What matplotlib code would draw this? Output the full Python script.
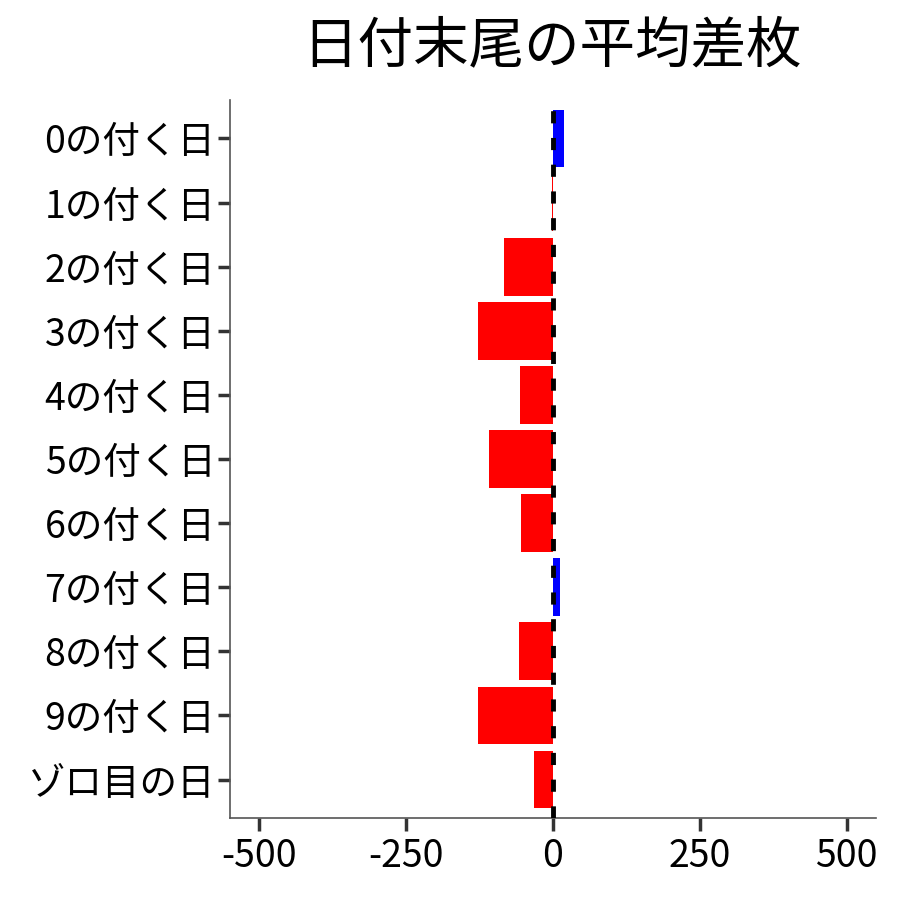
import numpy as np
import matplotlib
matplotlib.use("Agg")
import matplotlib.pyplot as plt

plt.rcParams['font.family'] = ['Noto Sans CJK JP', 'DejaVu Sans']

labels = ["0の付く日", "1の付く日", "2の付く日", "3の付く日", "4の付く日",
          "5の付く日", "6の付く日", "7の付く日", "8の付く日", "9の付く日", "ゾロ目の日"]
values = [19, -2, -84, -128, -57, -109, -55, 12, -58, -128, -33]
title = "日付末尾の平均差枚"

colors = ["blue" if v > 0 else "red" for v in values]
ypos = np.arange(len(labels))[::-1]

fig = plt.figure(figsize=(9, 9), dpi=100)
ax = fig.add_axes([0.2556, 0.0911, 0.7178, 0.7978])
ax.barh(ypos, values, height=0.9, color=colors, zorder=2)
ax.axvline(0, color="black", linestyle=(0, (2.5, 3)), linewidth=3.5, zorder=3)

ax.set_xlim(-550, 550)
ax.set_ylim(-0.6, len(labels) - 0.4)
ax.set_xticks([-500, -250, 0, 250, 500])
ax.set_xticklabels(["-500", "-250", "0", "250", "500"])
ax.set_yticks(ypos)
ax.set_yticklabels(labels)
ax.tick_params(axis="both", labelsize=27, length=9, width=2.5, color="#333333")
ax.tick_params(axis="x", pad=5)
ax.tick_params(axis="y", pad=1.5)

for s in ["top", "right"]:
    ax.spines[s].set_visible(False)
for s in ["left", "bottom"]:
    ax.spines[s].set_color("#555555")
    ax.spines[s].set_linewidth(1.2)

fig.text(0.613, 0.948, title, ha="center", va="center", fontsize=40)

fig.savefig("out.png", dpi=100)
